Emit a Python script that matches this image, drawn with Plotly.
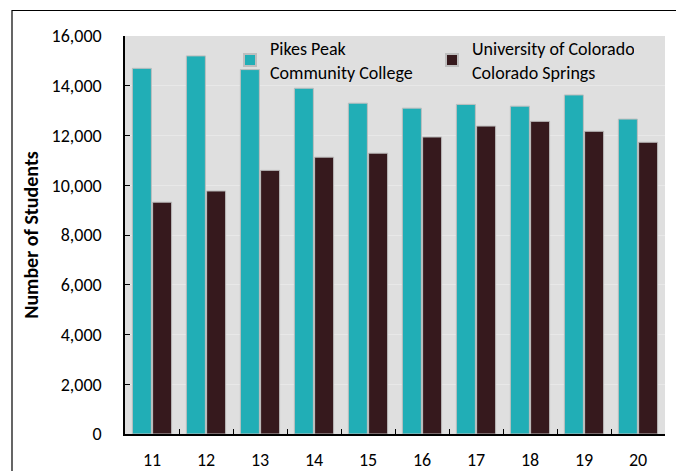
import plotly.graph_objects as go

years = ["11", "12", "13", "14", "15", "16", "17", "18", "19", "20"]
pikes_peak = [14700, 15200, 14650, 13900, 13300, 13100, 13250, 13180, 13630, 12660]
uccs = [9320, 9770, 10600, 11130, 11290, 11940, 12380, 12570, 12170, 11730]
y_ticks = [0, 2000, 4000, 6000, 8000, 10000, 12000, 14000, 16000]

W, H = 676, 471
ml, mr, mt, mb = 125, 11, 36, 37
pw, ph = W - ml - mr, H - mt - mb

FONT = "Carlito, Lato, 'Open Sans', sans-serif"

fig = go.Figure()
fig.add_trace(go.Bar(
    x=years, y=pikes_peak, name="Pikes Peak<br>Community College",
    marker=dict(color="#21AEB6", line=dict(color="#BEBEBE", width=1)),
))
fig.add_trace(go.Bar(
    x=years, y=uccs, name="University of Colorado<br>Colorado Springs",
    marker=dict(color="#36191D", line=dict(color="#BEBEBE", width=1)),
))

fig.update_layout(
    width=W, height=H,
    margin=dict(l=ml, r=mr, t=mt, b=mb, autoexpand=False),
    paper_bgcolor="white",
    plot_bgcolor="#DFDFDF",
    barmode="group",
    bargap=0.25,
    bargroupgap=0.06,
    font=dict(family=FONT, size=18, color="black"),
    showlegend=True,
    legend=dict(
        orientation="h",
        x=(230 - ml) / pw, xanchor="left",
        y=1 + 6 / ph, yanchor="top",
        bgcolor="rgba(0,0,0,0)",
        font=dict(family=FONT, size=18, color="black"),
        entrywidth=157,
        traceorder="normal",
        itemsizing="constant",
    ),
    shapes=[dict(
        type="rect", xref="paper", yref="paper",
        x0=(12 - ml) / pw, x1=1.2,
        y0=-0.3, y1=1 + (mt - 10.5) / ph,
        line=dict(color="black", width=1.2),
        fillcolor="rgba(0,0,0,0)", layer="below",
    )],
)

fig.update_xaxes(
    type="category",
    automargin=False,
    showline=True, linecolor="black", linewidth=1.5,
    ticks="inside", ticklen=5, tickcolor="black", tickwidth=1,
    tickson="boundaries",
    showgrid=False,
    ticklabelstandoff=9,
    tickfont=dict(family=FONT, size=18),
)
fig.update_yaxes(
    range=[0, 16000],
    automargin=False,
    tickvals=y_ticks,
    tickformat=",",
    showline=True, linecolor="black", linewidth=1.5,
    ticks="inside", ticklen=5, tickcolor="black", tickwidth=1,
    showgrid=True, gridcolor="#E8E8E8", gridwidth=1,
    zeroline=False,
    ticklabelstandoff=18,
    tickfont=dict(family=FONT, size=18),
    title=dict(text="<b>Number of Students</b>", font=dict(family=FONT, size=20), standoff=8),
)

fig.write_html(
    "out.html",
    config={"displayModeBar": False},
    post_script="document.body.style.margin='0';document.body.style.padding='0';",
)
